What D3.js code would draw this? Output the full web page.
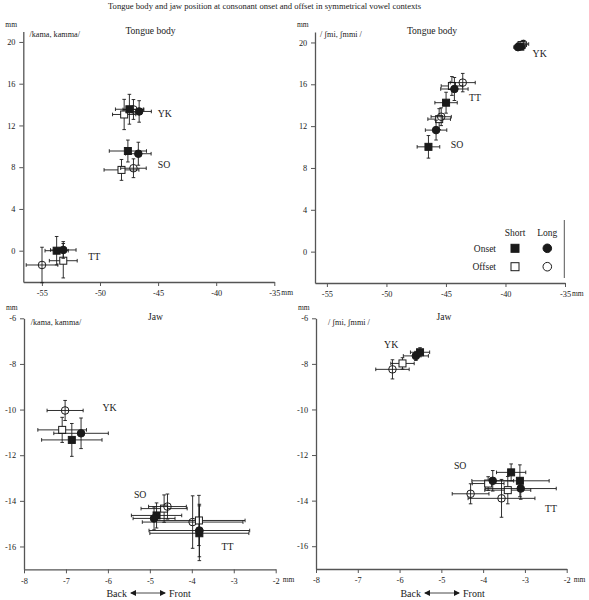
<!DOCTYPE html>
<html><head><meta charset="utf-8">
<script src="https://cdn.jsdelivr.net/npm/d3@7"></script>
<style>
html,body{margin:0;padding:0;background:#fff;}
svg{display:block;font-family:"Liberation Serif","Times New Roman",serif;}
</style></head>
<body>
<svg id="c" width="589" height="600"></svg>
<script>
// ---------- data ----------
const title = "Tongue body and jaw position at consonant onset and offset in symmetrical vowel contexts";
const tongueTicksX = [-55, -50, -45, -40, -35];
const tongueTicksY = [0, 4, 8, 12, 16, 20];
const jawTicksX = [-8, -7, -6, -5, -4, -3, -2];
const jawTicksY = [-6, -8, -10, -12, -14, -16];

// speaker, phase, length, x, y, x-error, y-error
const tongueKama = [
  ["YK","Offset","Short",-47.92,13.05,1.0,1.45],
  ["YK","Offset","Long",-47.12,13.53,0.9,0.95],
  ["YK","Onset","Short",-47.47,13.55,1.2,1.43],
  ["YK","Onset","Long",-46.63,13.34,1.05,1.03],
  ["SO","Offset","Short",-48.15,7.74,1.5,1.0],
  ["SO","Offset","Long",-47.12,7.9,1.1,0.9],
  ["SO","Onset","Short",-47.6,9.55,1.6,1.05],
  ["SO","Onset","Long",-46.7,9.29,1.1,1.1],
  ["TT","Offset","Short",-53.16,-0.96,1.2,1.65],
  ["TT","Offset","Long",-54.99,-1.37,1.36,1.7],
  ["TT","Onset","Short",-53.73,0.0,1.0,1.36],
  ["TT","Onset","Long",-53.16,0.07,1.1,0.8]
];
const tongueShmi = [
  ["TT","Offset","Short",-44.5,15.84,0.9,0.9],
  ["TT","Offset","Long",-43.59,16.16,1.05,0.88],
  ["TT","Onset","Short",-44.99,14.24,0.94,1.0],
  ["TT","Onset","Long",-44.29,15.55,1.15,1.1],
  ["SO","Offset","Short",-45.57,12.67,0.95,1.0],
  ["SO","Offset","Long",-45.4,12.9,0.85,0.85],
  ["SO","Onset","Short",-46.47,10.02,0.95,1.08],
  ["SO","Onset","Long",-45.83,11.62,0.9,0.95],
  ["YK","Offset","Short",-38.65,19.75,0.4,0.3],
  ["YK","Offset","Long",-38.5,19.85,0.45,0.35],
  ["YK","Onset","Short",-38.75,19.6,0.35,0.3],
  ["YK","Onset","Long",-38.95,19.55,0.35,0.3]
];
const jawKama = [
  ["YK","Offset","Long",-7.02,-10.04,0.43,0.44],
  ["YK","Offset","Short",-7.09,-10.89,0.58,0.55],
  ["YK","Onset","Long",-6.64,-11.04,0.65,0.67],
  ["YK","Onset","Short",-6.86,-11.33,0.72,0.72],
  ["SO","Offset","Short",-4.66,-14.34,0.55,0.6],
  ["SO","Offset","Long",-4.58,-14.25,0.45,0.55],
  ["SO","Onset","Short",-4.84,-14.64,0.6,0.55],
  ["SO","Onset","Long",-4.90,-14.77,0.5,0.5],
  ["TT","Offset","Long",-3.98,-14.93,1.2,1.15],
  ["TT","Offset","Short",-3.83,-14.86,1.1,1.1],
  ["TT","Onset","Short",-3.82,-15.42,1.18,1.2],
  ["TT","Onset","Long",-3.82,-15.30,1.2,1.15]
];
const jawShmi = [
  ["YK","Offset","Long",-6.17,-8.24,0.4,0.42],
  ["YK","Offset","Short",-5.93,-7.98,0.28,0.25],
  ["YK","Onset","Long",-5.61,-7.65,0.3,0.2],
  ["YK","Onset","Short",-5.51,-7.49,0.23,0.2],
  ["SO","Offset","Long",-4.30,-13.70,0.44,0.44],
  ["SO","Offset","Short",-3.88,-13.25,0.38,0.3],
  ["SO","Onset","Long",-3.77,-13.13,0.5,0.45],
  ["SO","Onset","Short",-3.33,-12.76,0.35,0.37],
  ["TT","Offset","Long",-3.56,-13.90,0.8,0.83],
  ["TT","Offset","Short",-3.41,-13.54,0.55,0.6],
  ["TT","Onset","Short",-3.12,-13.13,0.7,0.7],
  ["TT","Onset","Long",-3.10,-13.47,0.85,0.47]
];

// speaker labels: text, x, y (data units)
const labelsTongueKama = [["YK",-45.03,12.83],["SO",-45.03,7.9],["TT",-51.0,-0.86]];
const labelsTongueShmi = [["YK",-37.72,18.6],["TT",-43.06,14.4],["SO",-44.6,9.95]];
const labelsJawKama = [["YK",-6.13,-10.05],["SO",-5.38,-13.88],["TT",-3.29,-16.15]];
const labelsJawShmi = [["YK",-6.37,-7.32],["SO",-4.70,-12.63],["TT",-2.52,-14.52]];

const legendCols = ["Short","Long"];
const legendRows = ["Onset","Offset"];

// ---------- drawing ----------
const svg = d3.select("#c");
const ink = "#1a1a1a", axisCol = "#555";

svg.append("text").attr("x",264.5).attr("y",8.5).attr("text-anchor","middle")
  .attr("font-size",8.6).attr("fill",ink).text(title);

const panels = [
  {data:tongueKama, labels:labelsTongueKama, xd:[-56.6,-35], xr:[23.3,274.3], yd:[-3,21], yr:[282,31.5],
   xt:tongueTicksX, yt:tongueTicksY, head:"Tongue body", headX:150.5, headY:34, sub:"/kama, kamma/", subX:29.5, subY:37, mmY:27, arrow:false},
  {data:tongueShmi, labels:labelsTongueShmi, xd:[-56,-35], xr:[315,565], yd:[-3,21], yr:[283,32],
   xt:tongueTicksX, yt:tongueTicksY, head:"Tongue body", headX:432, headY:34, sub:"/ \u0283mi, \u0283mmi /", subX:320, subY:37, mmY:27, arrow:false, legend:true},
  {data:jawKama, labels:labelsJawKama, xd:[-8,-2], xr:[24,275.7], yd:[-17,-6], yr:[569.3,318.3],
   xt:jawTicksX, yt:jawTicksY, head:"Jaw", headX:155.5, headY:320, sub:"/kama, kamma/", subX:30.7, subY:325, mmY:310, arrow:true, arrowX:147},
  {data:jawShmi, labels:labelsJawShmi, xd:[-8,-2], xr:[316,566.7], yd:[-17,-6], yr:[569,318.3],
   xt:jawTicksX, yt:jawTicksY, head:"Jaw", headX:444, headY:320, sub:"/ \u0283mi, \u0283mmi /", subX:328, subY:325, mmY:310, arrow:true, arrowX:441}
];

function marker(g, cx, cy, phase, len, s) {
  const filled = phase === "Onset";
  if (len === "Short") {
    g.append("rect").attr("x",cx-s/2).attr("y",cy-s/2).attr("width",s).attr("height",s)
      .attr("fill", filled ? ink : "#fff").attr("stroke",ink).attr("stroke-width",1);
  } else {
    g.append("circle").attr("cx",cx).attr("cy",cy).attr("r",s/2+0.3)
      .attr("fill", filled ? ink : "none").attr("stroke",ink).attr("stroke-width",1);
  }
}

const fmt = d => String(d);

panels.forEach(p => {
  const x = d3.scaleLinear().domain(p.xd).range(p.xr);
  const y = d3.scaleLinear().domain(p.yd).range(p.yr);
  const g = svg.append("g");

  const ax = g.append("g").attr("transform",`translate(0,${p.yr[0]})`)
    .call(d3.axisBottom(x).tickValues(p.xt).tickSize(4).tickSizeOuter(0).tickFormat(fmt));
  const ay = g.append("g").attr("transform",`translate(${p.xr[0]},0)`)
    .call(d3.axisLeft(y).tickValues(p.yt).tickSize(4).tickSizeOuter(0).tickFormat(fmt));
  [ax, ay].forEach(a => {
    a.select(".domain").attr("stroke",axisCol).attr("stroke-width",1.3);
    a.selectAll(".tick line").attr("stroke",axisCol);
    a.selectAll("text").attr("font-family","Liberation Serif").attr("font-size",8.3).attr("fill",ink);
  });
  ax.selectAll("text").attr("dy","0.9em");
  ay.selectAll("text").attr("dx","-0.1em");

  g.append("text").attr("x",p.xr[1]+7).attr("y",p.yr[0]+13).attr("font-size",7.5).attr("fill",ink).text("mm");
  g.append("text").attr("x",p.xr[0]-18).attr("y",p.mmY).attr("font-size",7.5).attr("fill",ink).text("mm");
  g.append("text").attr("x",p.headX).attr("y",p.headY).attr("text-anchor","middle").attr("font-size",9.6).attr("fill",ink).text(p.head);
  g.append("text").attr("x",p.subX).attr("y",p.subY).attr("font-size",8.2).attr("fill",ink).text(p.sub);

  // error bars + markers
  const cap = 1.8;
  p.data.forEach(d => {
    const [spk, phase, len, vx, vy, ex, ey] = d;
    const cx = x(vx), cy = y(vy);
    const x0 = x(vx-ex), x1 = x(vx+ex), y0 = y(vy-ey), y1 = y(vy+ey);
    const eb = g.append("g").attr("stroke",ink).attr("stroke-width",0.9);
    eb.append("line").attr("x1",x0).attr("x2",x1).attr("y1",cy).attr("y2",cy);
    eb.append("line").attr("x1",x0).attr("x2",x0).attr("y1",cy-cap).attr("y2",cy+cap);
    eb.append("line").attr("x1",x1).attr("x2",x1).attr("y1",cy-cap).attr("y2",cy+cap);
    eb.append("line").attr("x1",cx).attr("x2",cx).attr("y1",y0).attr("y2",y1);
    eb.append("line").attr("x1",cx-cap).attr("x2",cx+cap).attr("y1",y0).attr("y2",y0);
    eb.append("line").attr("x1",cx-cap).attr("x2",cx+cap).attr("y1",y1).attr("y2",y1);
    marker(g, cx, cy, phase, len, 7);
  });

  p.labels.forEach(l => {
    g.append("text").attr("x",x(l[1])).attr("y",y(l[2])).attr("font-size",9.8).attr("fill",ink).text(l[0]);
  });

  if (p.arrow) {
    const ya = 593, cx = p.arrowX;
    g.append("text").attr("x",cx-20).attr("y",ya+3.5).attr("text-anchor","end").attr("font-size",10).attr("fill",ink).text("Back");
    g.append("text").attr("x",cx+22).attr("y",ya+3.5).attr("font-size",10).attr("fill",ink).text("Front");
    g.append("line").attr("x1",cx-16).attr("x2",cx+18).attr("y1",ya).attr("y2",ya).attr("stroke",ink).attr("stroke-width",0.8);
    g.append("path").attr("d",`M${cx-17},${ya} l6,-3 l0,6 z`).attr("fill",ink);
    g.append("path").attr("d",`M${cx+19},${ya} l-6,-3 l0,6 z`).attr("fill",ink);
  }

  if (p.legend) {
    const colX = [515, 547.3], rowY = [248.3, 266.7];
    legendCols.forEach((c,i) => g.append("text").attr("x",colX[i]).attr("y",236).attr("text-anchor","middle")
      .attr("font-size",9.5).attr("fill",ink).text(c));
    legendRows.forEach((r,j) => {
      g.append("text").attr("x",496).attr("y",rowY[j]+3.3).attr("text-anchor","end")
        .attr("font-size",9.5).attr("fill",ink).text(r);
      legendCols.forEach((c,i) => marker(g, colX[i], rowY[j], r, c, 8));
    });
    g.append("line").attr("x1",564.3).attr("x2",564.3).attr("y1",220).attr("y2",278)
      .attr("stroke",axisCol).attr("stroke-width",1);
  }
});
</script>
</body></html>
